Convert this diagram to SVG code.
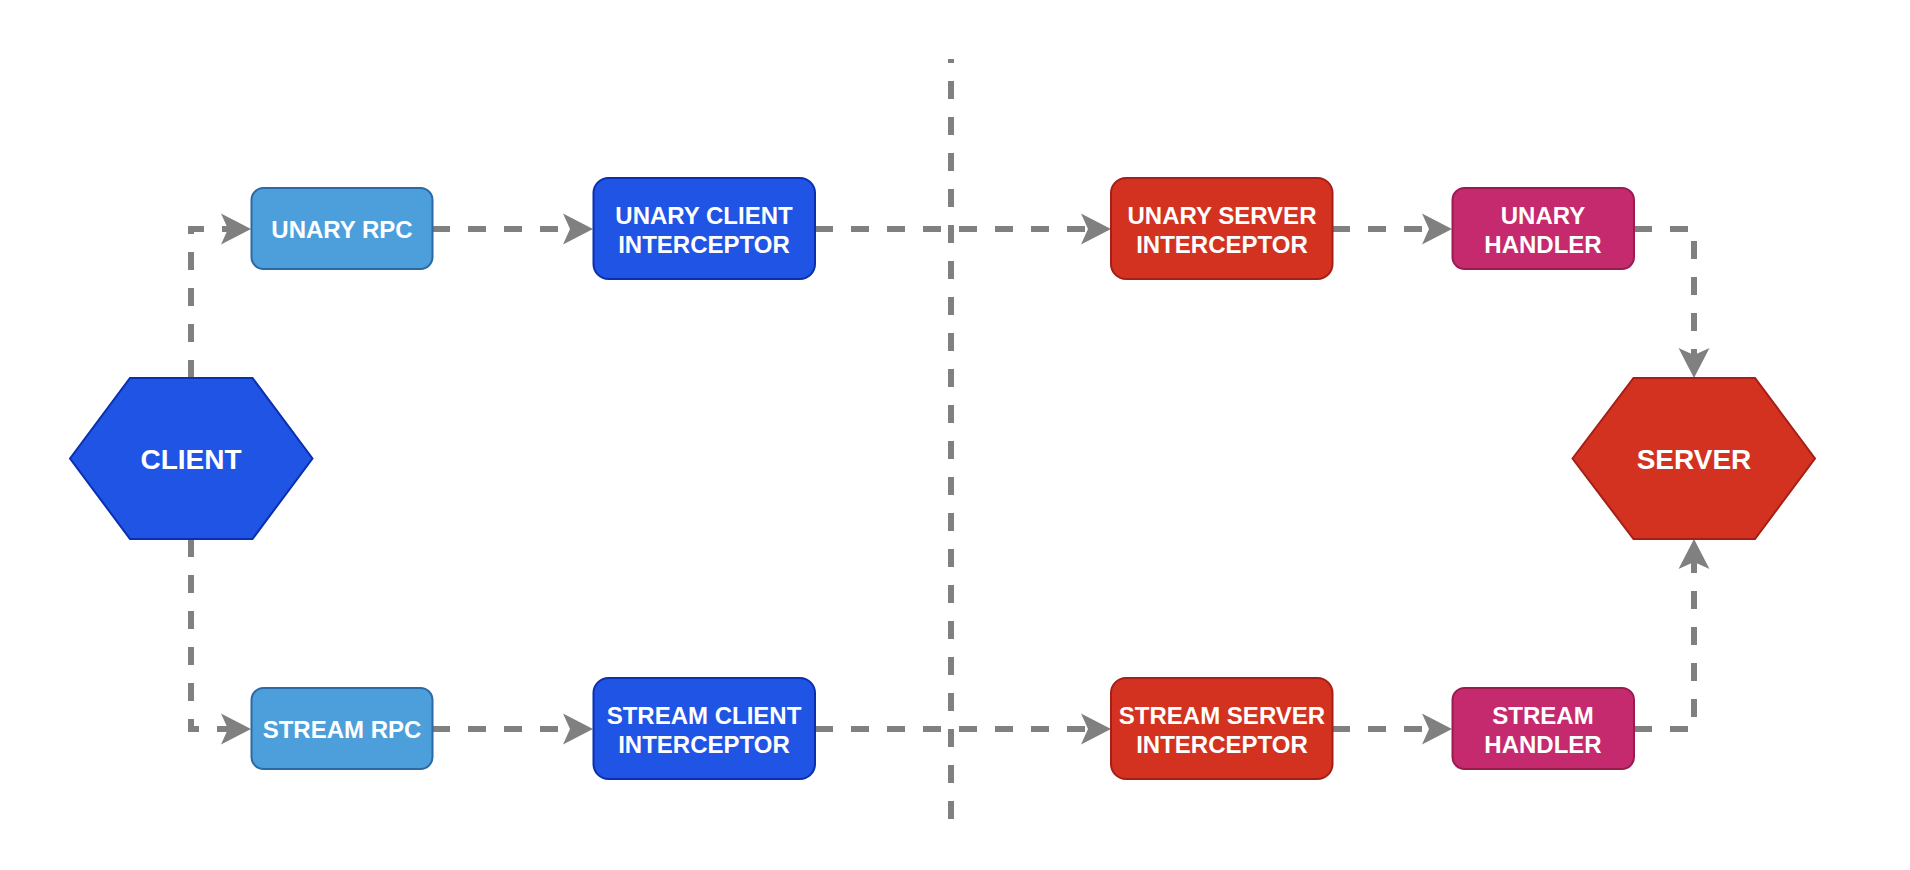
<svg xmlns="http://www.w3.org/2000/svg" width="1910" height="870" viewBox="0 0 1910 870">
  <style>
    .t { font-family: "Liberation Sans", Arial, sans-serif; font-weight: bold; fill: #ffffff; text-anchor: middle; font-size: 24px; }
    .th { font-size: 28px; }
    .conn { fill: none; stroke: #808080; stroke-width: 6; stroke-dasharray: 18 18; }
    .rpc { fill: #4D9FDB; stroke: #2A6AA5; stroke-width: 2; }
    .ci { fill: #1F54E4; stroke: #0A2FB0; stroke-width: 2; }
    .si { fill: #D2321F; stroke: #A51F18; stroke-width: 2; }
    .h { fill: #C52A6E; stroke: #9A1C4D; stroke-width: 2; }
  </style>
  <defs>
    <marker id="arr" markerUnits="userSpaceOnUse" markerWidth="32" markerHeight="32" viewBox="0 0 32 32" refX="8" refY="16" orient="auto">
      <path d="M1,0.5 L31,16 L1,31.5 L8,16 Z" fill="#808080"/>
    </marker>
  </defs>
  <rect width="1910" height="870" fill="#ffffff"/>

  <g id="separator">
    <line x1="951" y1="59" x2="951" y2="819" class="conn" stroke-dashoffset="14"/>
  </g>

  <g id="connectors">
    <path class="conn" d="M191,378 L191,229 L228,229" marker-end="url(#arr)"/>
    <path class="conn" d="M432,229 L570,229" marker-end="url(#arr)"/>
    <path class="conn" d="M815,229 L1088,229" marker-end="url(#arr)"/>
    <path class="conn" d="M1332,229 L1429,229" marker-end="url(#arr)"/>
    <path class="conn" d="M1634,229 L1694,229 L1694,355" marker-end="url(#arr)"/>
    <path class="conn" d="M191,539 L191,729 L228,729" marker-end="url(#arr)"/>
    <path class="conn" d="M432,729 L570,729" marker-end="url(#arr)"/>
    <path class="conn" d="M815,729 L1088,729" marker-end="url(#arr)"/>
    <path class="conn" d="M1332,729 L1429,729" marker-end="url(#arr)"/>
    <path class="conn" d="M1634,729 L1694,729 L1694,562" marker-end="url(#arr)"/>
  </g>

  <g id="client">
    <polygon class="ci" points="70,458.5 130,378 252.5,378 312.5,458.5 252.5,539 130,539"/>
    <text class="t th" x="191" y="469">CLIENT</text>
  </g>

  <g id="unary-rpc">
    <rect class="rpc" x="251.5" y="188" width="181" height="81" rx="12"/>
    <text class="t" x="342" y="237.5">UNARY RPC</text>
  </g>

  <g id="stream-rpc">
    <rect class="rpc" x="251.5" y="688" width="181" height="81" rx="12"/>
    <text class="t" x="342" y="737.5">STREAM RPC</text>
  </g>

  <g id="unary-client-interceptor">
    <rect class="ci" x="593.5" y="178" width="221.5" height="101" rx="15"/>
    <text class="t" x="704" y="223.5">UNARY CLIENT</text>
    <text class="t" x="704" y="252.5">INTERCEPTOR</text>
  </g>

  <g id="stream-client-interceptor">
    <rect class="ci" x="593.5" y="678" width="221.5" height="101" rx="15"/>
    <text class="t" x="704" y="723.5">STREAM CLIENT</text>
    <text class="t" x="704" y="752.5">INTERCEPTOR</text>
  </g>

  <g id="unary-server-interceptor">
    <rect class="si" x="1111" y="178" width="221.5" height="101" rx="15"/>
    <text class="t" x="1222" y="223.5">UNARY SERVER</text>
    <text class="t" x="1222" y="252.5">INTERCEPTOR</text>
  </g>

  <g id="stream-server-interceptor">
    <rect class="si" x="1111" y="678" width="221.5" height="101" rx="15"/>
    <text class="t" x="1222" y="723.5">STREAM SERVER</text>
    <text class="t" x="1222" y="752.5">INTERCEPTOR</text>
  </g>

  <g id="unary-handler">
    <rect class="h" x="1452.5" y="188" width="181.5" height="81" rx="12"/>
    <text class="t" x="1543" y="223.5">UNARY</text>
    <text class="t" x="1543" y="252.5">HANDLER</text>
  </g>

  <g id="stream-handler">
    <rect class="h" x="1452.5" y="688" width="181.5" height="81" rx="12"/>
    <text class="t" x="1543" y="723.5">STREAM</text>
    <text class="t" x="1543" y="752.5">HANDLER</text>
  </g>

  <g id="server">
    <polygon class="si" points="1572.5,458.5 1633.5,378 1755,378 1815,458.5 1755,539 1633.5,539"/>
    <text class="t th" x="1694" y="469">SERVER</text>
  </g>
</svg>
